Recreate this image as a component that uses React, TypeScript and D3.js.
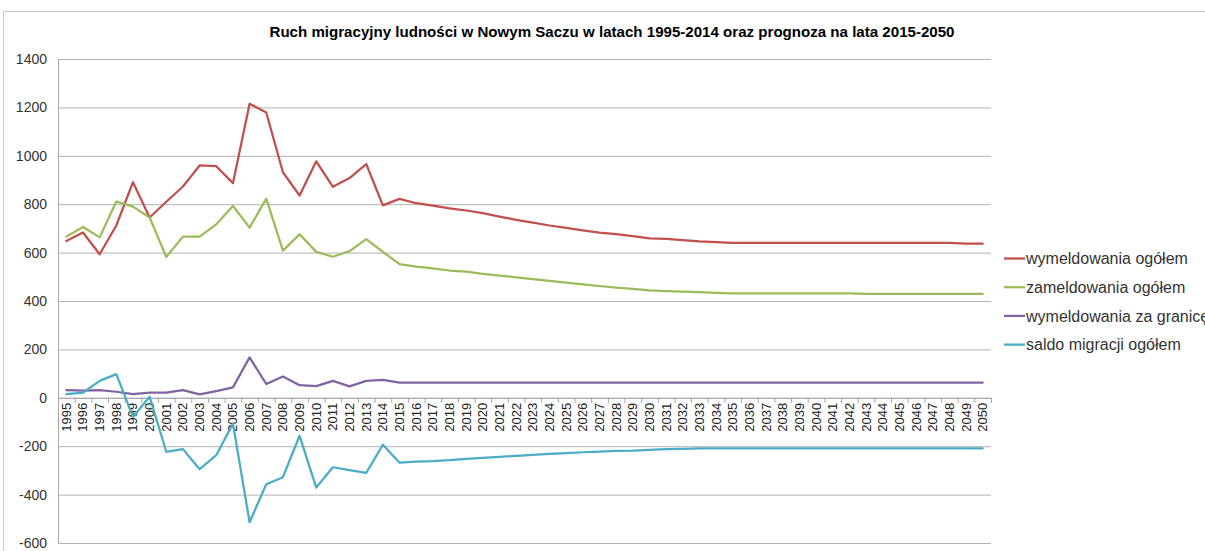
import React from "react";
import * as d3 from "d3";

const years: string[] = d3.range(1995, 2051).map(String);

const wymeldowania: number[] = [
  648, 683, 593, 712, 891, 745, 810, 873, 960, 957, 887, 1215, 1179, 932, 836, 977, 872, 908, 966, 795,
  822, 804, 794, 783, 774, 763, 749, 735, 724, 712, 702, 692, 683, 676, 668, 659, 657, 652, 646, 643, 640,
  640, 640, 640, 640, 640, 640, 640, 640, 640, 640, 640, 640, 640, 637, 637,
];

const zameldowania: number[] = [
  666, 706, 663, 811, 790, 745, 582, 666, 666, 717, 793, 703, 823, 608, 676, 603, 583, 606, 656, 603,
  552, 542, 535, 526, 521, 512, 505, 498, 490, 483, 476, 469, 462, 455, 450, 444, 441, 439, 437, 434, 432,
  432, 432, 432, 432, 432, 432, 432, 429, 429, 429, 429, 429, 429, 429, 429,
];

const zaGranice: number[] = [
  32, 30, 32, 25, 15, 21, 21, 32, 14, 28, 43, 167, 57, 88, 52, 48, 70, 47, 70, 74,
  63, 63, 63, 63, 63, 63, 63, 63, 63, 63, 63, 63, 63, 63, 63, 63, 63, 63, 63, 63, 63,
  63, 63, 63, 63, 63, 63, 63, 63, 63, 63, 63, 63, 63, 63, 63,
];

const saldo: number[] = [
  15, 21, 70, 98, -79, 4, -223, -212, -295, -237, -106, -514, -357, -328, -157, -371, -287, -299, -310, -194,
  -268, -264, -262, -258, -252, -248, -244, -240, -236, -232, -229, -225, -222, -219, -218, -215, -212, -211, -209,
  -209, -209, -209, -209, -209, -209, -209, -209, -209, -209, -209, -209, -209, -209, -209, -209, -209,
];

const yTicks: number[] = [-600, -400, -200, 0, 200, 400, 600, 800, 1000, 1200, 1400];

const seriesNames: string[] = [
  "wymeldowania ogółem",
  "zameldowania ogółem",
  "wymeldowania za granicę",
  "saldo migracji ogółem",
];
const seriesColors: string[] = ["#C0504D", "#9BBB59", "#8064A2", "#4BACC6"];
const seriesData: number[][] = [wymeldowania, zameldowania, zaGranice, saldo];

const title = "Ruch migracyjny ludności w Nowym Saczu w latach 1995-2014 oraz prognoza na lata 2015-2050";

export default function App() {
  const W = 1205;
  const H = 551;
  const left = 58;
  const right = 991;
  const top = 59;
  const bottom = 543;

  const x = d3.scalePoint<string>().domain(years).range([left, right]).padding(0.5);
  const y = d3.scaleLinear().domain([-600, 1400]).range([bottom, top]);
  const step = x.step();
  const y0 = y(0);

  const line = (vals: number[]) =>
    d3
      .line<number>()
      .x((_, i) => x(years[i]) as number)
      .y((v) => y(v))(vals) as string;

  const font = "'Liberation Sans', Arial, sans-serif";

  return (
    <svg
      width={W}
      height={H}
      style={{ position: "absolute", left: 0, top: 0, background: "#fff" }}
      fontFamily={font}
    >
      <rect x={0} y={0} width={W} height={H} fill="#fff" />
      <rect x={3.5} y={11.5} width={W + 20} height={H + 20} fill="none" stroke="#c8c8c8" />
      <text
        x={612}
        y={37}
        textAnchor="middle"
        fontSize={15}
        fontWeight="bold"
        fill="#000"
        textLength={685}
        lengthAdjust="spacingAndGlyphs"
      >
        {title}
      </text>

      {yTicks.map((t) => (
        <g key={t}>
          <line x1={left} x2={right} y1={y(t) + 0.5} y2={y(t) + 0.5} stroke="#b3b3b3" strokeWidth={1} />
          <text
            x={47}
            y={y(t)}
            dy="0.36em"
            textAnchor="end"
            fontSize={14}
            fill="#333"
          >
            {t}
          </text>
        </g>
      ))}

      <line x1={left + 0.5} x2={left + 0.5} y1={top} y2={bottom} stroke="#a6a6a6" />
      <line x1={left} x2={right} y1={y0 + 0.5} y2={y0 + 0.5} stroke="#a6a6a6" />
      {d3.range(years.length + 1).map((i) => {
        const xx = left + i * step;
        return (
          <line key={i} x1={xx + 0.5} x2={xx + 0.5} y1={y0} y2={y0 + 5} stroke="#a6a6a6" />
        );
      })}
      {years.map((yr) => (
        <text
          key={yr}
          transform={`translate(${(x(yr) as number) + 4.5},${y0 + 5}) rotate(-90)`}
          textAnchor="end"
          fontSize={13}
          fill="#222"
        >
          {yr}
        </text>
      ))}

      {seriesData.map((vals, k) => (
        <path
          key={k}
          d={line(vals)}
          fill="none"
          stroke={seriesColors[k]}
          strokeWidth={2.25}
          strokeLinejoin="round"
          strokeLinecap="round"
        />
      ))}

      {seriesNames.map((name, k) => {
        const ly = 258.5 + k * 28.7;
        return (
          <g key={name}>
            <line x1={1004} x2={1025} y1={ly} y2={ly} stroke={seriesColors[k]} strokeWidth={2.25} />
            <text x={1026} y={ly} dy="0.35em" fontSize={16} fill="#333">
              {name}
            </text>
          </g>
        );
      })}
    </svg>
  );
}
